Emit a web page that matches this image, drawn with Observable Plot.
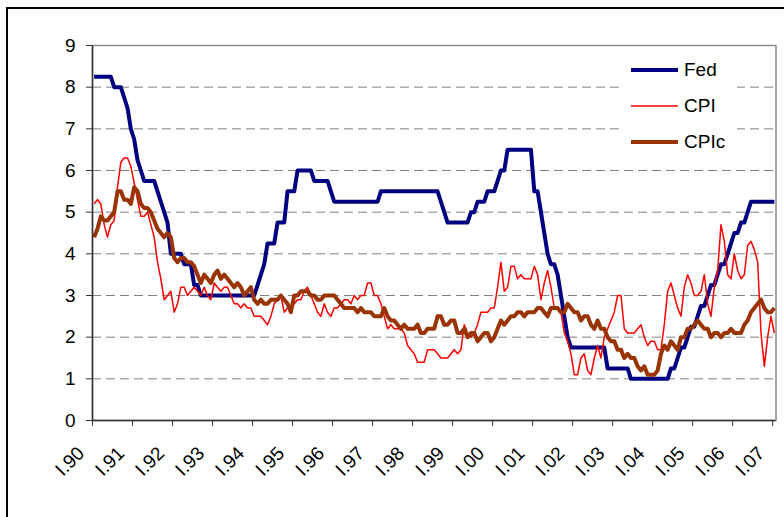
<!DOCTYPE html>
<html><head><meta charset="utf-8">
<script src="https://cdn.jsdelivr.net/npm/d3@7"></script>
<script src="https://cdn.jsdelivr.net/npm/@observablehq/plot@0.6"></script>
<style>
html,body{margin:0;padding:0;background:#fff;}
#wrap{position:relative;width:784px;height:517px;overflow:hidden;font-family:"Liberation Sans",Arial,sans-serif;}
#border{position:absolute;left:6px;top:7px;width:820px;height:600px;border:2px solid #000;box-sizing:border-box;pointer-events:none;}
#legend{position:absolute;left:623px;top:50px;width:114px;height:110px;background:#fff;}
.item{position:absolute;left:0;height:24px;width:114px;}
.item svg{position:absolute;left:8px;top:0;}
.item span{position:absolute;left:61px;top:0;line-height:24px;font-size:19px;color:#000;}
</style></head>
<body>
<div id="wrap"><div id="chart"></div><div id="legend"></div><div id="border"></div></div>
<script>
const yearLabels = ["I.90","I.91","I.92","I.93","I.94","I.95","I.96","I.97","I.98","I.99","I.00","I.01","I.02","I.03","I.04","I.05","I.06","I.07"];
const seriesNames = ["Fed","CPI","CPIc"];
// monthly values, Jan 1990 .. Jan 2007
const fed = [
8.25,8.25,8.25,8.25,8.25,8.25,8,8,8,7.75,7.5,7,
6.75,6.25,6,5.75,5.75,5.75,5.75,5.5,5.25,5,4.75,4,
4,4,4,3.75,3.75,3.75,3.25,3.25,3,3,3,3,
3,3,3,3,3,3,3,3,3,3,3,3,
3,3.25,3.5,3.75,4.25,4.25,4.25,4.75,4.75,4.75,5.5,5.5,
5.5,6,6,6,6,6,5.75,5.75,5.75,5.75,5.75,5.5,
5.25,5.25,5.25,5.25,5.25,5.25,5.25,5.25,5.25,5.25,5.25,5.25,
5.25,5.25,5.5,5.5,5.5,5.5,5.5,5.5,5.5,5.5,5.5,5.5,
5.5,5.5,5.5,5.5,5.5,5.5,5.5,5.5,5.25,5,4.75,4.75,
4.75,4.75,4.75,4.75,4.75,5,5,5.25,5.25,5.25,5.5,5.5,
5.5,5.75,6,6,6.5,6.5,6.5,6.5,6.5,6.5,6.5,6.5,
5.5,5.5,5,4.5,4,3.75,3.75,3.5,3,2.5,2,1.75,
1.75,1.75,1.75,1.75,1.75,1.75,1.75,1.75,1.75,1.75,1.25,1.25,
1.25,1.25,1.25,1.25,1.25,1,1,1,1,1,1,1,
1,1,1,1,1,1.25,1.25,1.5,1.75,1.75,2,2.25,
2.25,2.5,2.75,2.75,3,3.25,3.25,3.5,3.75,3.75,4,4.25,
4.5,4.5,4.75,4.75,5,5.25,5.25,5.25,5.25,5.25,5.25,5.25,
5.25];
const cpi = [
5.2,5.3,5.2,4.7,4.4,4.7,4.8,5.6,6.2,6.3,6.3,6.1,
5.7,5.3,4.9,4.9,5.0,4.7,4.4,3.8,3.4,2.9,3.0,3.1,
2.6,2.8,3.2,3.2,3.0,3.1,3.2,3.1,3.0,3.2,3.0,2.9,
3.3,3.2,3.1,3.2,3.2,3.0,2.8,2.8,2.7,2.8,2.7,2.7,
2.5,2.5,2.5,2.4,2.3,2.5,2.8,2.9,3.0,2.6,2.7,2.7,
2.8,2.9,2.9,3.1,3.2,3.0,2.8,2.6,2.5,2.8,2.6,2.5,
2.7,2.7,2.8,2.9,2.9,2.8,3.0,2.9,3.0,3.0,3.3,3.3,
3.0,3.0,2.8,2.5,2.2,2.3,2.2,2.2,2.2,2.1,1.8,1.7,
1.6,1.4,1.4,1.4,1.7,1.7,1.7,1.6,1.5,1.5,1.5,1.6,
1.7,1.6,1.7,2.3,2.1,2.0,2.1,2.3,2.6,2.6,2.6,2.7,
2.7,3.2,3.8,3.1,3.2,3.7,3.7,3.4,3.5,3.4,3.4,3.4,
3.7,3.5,2.9,3.3,3.6,3.2,2.7,2.7,2.6,2.1,1.9,1.6,
1.1,1.1,1.5,1.6,1.2,1.1,1.5,1.8,1.5,2.0,2.2,2.4,
2.6,3.0,3.0,2.2,2.1,2.1,2.1,2.2,2.3,2.0,1.8,1.9,
1.9,1.7,1.7,2.3,3.1,3.3,3.0,2.7,2.5,3.2,3.5,3.3,
3.0,3.0,3.1,3.5,2.8,2.5,3.2,3.6,4.7,4.3,3.5,3.4,
4.0,3.6,3.4,3.5,4.2,4.3,4.1,3.8,2.1,1.3,2.0,2.5,
2.1];
const cpic = [
4.4,4.6,4.9,4.8,4.8,4.9,5.0,5.5,5.5,5.3,5.3,5.2,
5.6,5.5,5.2,5.1,5.1,5.0,4.8,4.6,4.5,4.4,4.5,4.4,
3.9,3.8,3.9,3.9,3.8,3.8,3.7,3.5,3.3,3.5,3.4,3.3,
3.5,3.6,3.4,3.5,3.4,3.3,3.2,3.3,3.2,3.0,3.1,3.2,
2.9,2.8,2.9,2.8,2.8,2.9,2.9,2.9,3.0,2.9,2.8,2.6,
3.0,3.0,3.1,3.1,3.1,3.0,3.0,2.9,2.9,3.0,3.0,3.0,
3.0,2.9,2.8,2.7,2.7,2.7,2.7,2.6,2.7,2.6,2.6,2.6,
2.5,2.5,2.5,2.7,2.5,2.4,2.4,2.3,2.2,2.3,2.2,2.2,
2.2,2.3,2.1,2.1,2.2,2.2,2.2,2.5,2.5,2.3,2.3,2.4,
2.4,2.1,2.1,2.2,2.0,2.1,2.1,1.9,2.0,2.1,2.1,1.9,
2.0,2.2,2.4,2.3,2.4,2.5,2.5,2.6,2.6,2.5,2.6,2.6,
2.6,2.7,2.7,2.6,2.5,2.7,2.7,2.7,2.6,2.6,2.8,2.7,
2.6,2.6,2.4,2.5,2.5,2.3,2.2,2.4,2.2,2.2,2.0,1.9,
1.9,1.7,1.7,1.5,1.6,1.5,1.5,1.3,1.2,1.3,1.1,1.1,
1.1,1.2,1.6,1.8,1.7,1.9,1.8,1.7,2.0,2.0,2.2,2.2,
2.3,2.4,2.3,2.2,2.2,2.0,2.1,2.1,2.0,2.1,2.1,2.2,
2.1,2.1,2.1,2.3,2.4,2.6,2.7,2.8,2.9,2.7,2.6,2.6,
2.7];
const yTicks = [0,1,2,3,4,5,6,7,8,9];

const colors = {Fed:"#000080", CPI:"#FF0000", CPIc:"#993300"};
const widths = {Fed:4, CPI:1.5, CPIc:4};
const toRows = (arr, s) => arr.map((v, i) => ({m: i + 0.5, v, s}));
const series = {Fed: toRows(fed, "Fed"), CPI: toRows(cpi, "CPI"), CPIc: toRows(cpic, "CPIc")};
const xTicks = yearLabels.map((_, i) => i * 12);
const nMonths = fed.length;

const font = "Liberation Sans, Arial, sans-serif";
const chart = Plot.plot({
  width: 784, height: 517,
  marginLeft: 92, marginRight: 8.5, marginTop: 45, marginBottom: 97,
  style: {fontFamily: font, fontSize: "19px", color: "#000", background: "transparent"},
  x: {type: "linear", domain: [0, nMonths]},
  y: {domain: [0, 9]},
  marks: [
    Plot.gridY(yTicks.filter(d => d > 0 && d < 9), {stroke: "#808080", strokeOpacity: 1, strokeDasharray: "9,5"}),
    Plot.frame({stroke: "#8c8c8c", strokeWidth: 1.5}),
    ...seriesNames.map(s => Plot.lineY(series[s], {x: "m", y: "v", stroke: colors[s], strokeWidth: widths[s], strokeLinejoin: "round", strokeLinecap: "butt"})),
    Plot.ruleX([0], {stroke: "#333", strokeWidth: 1.5}),
    Plot.ruleY([0], {stroke: "#333", strokeWidth: 1.5}),
    Plot.axisY({ticks: yTicks, tickSize: 6, tickPadding: 11, fontSize: 19, label: null, stroke: "#333"}),
    Plot.axisX({ticks: xTicks, tickSize: 6, tickFormat: () => "", label: null, stroke: "#333"}),
    Plot.axisX({ticks: xTicks, tickSize: 0, tickPadding: 34, dx: -7, tickRotate: -45, textAnchor: "end", lineAnchor: "bottom", fontSize: 19, label: null, tickFormat: d => yearLabels[Math.round(d / 12)]})
  ]
});
document.getElementById("chart").appendChild(chart);

const legend = document.getElementById("legend");
seriesNames.forEach((s, i) => {
  const it = document.createElement("div");
  it.className = "item";
  it.style.top = (8 + i * 36) + "px";
  it.innerHTML = `<svg width="48" height="24"><line x1="0" x2="47" y1="12" y2="12" stroke="${colors[s]}" stroke-width="${widths[s]}"/></svg><span>${s}</span>`;
  legend.appendChild(it);
});
</script>
</body></html>
